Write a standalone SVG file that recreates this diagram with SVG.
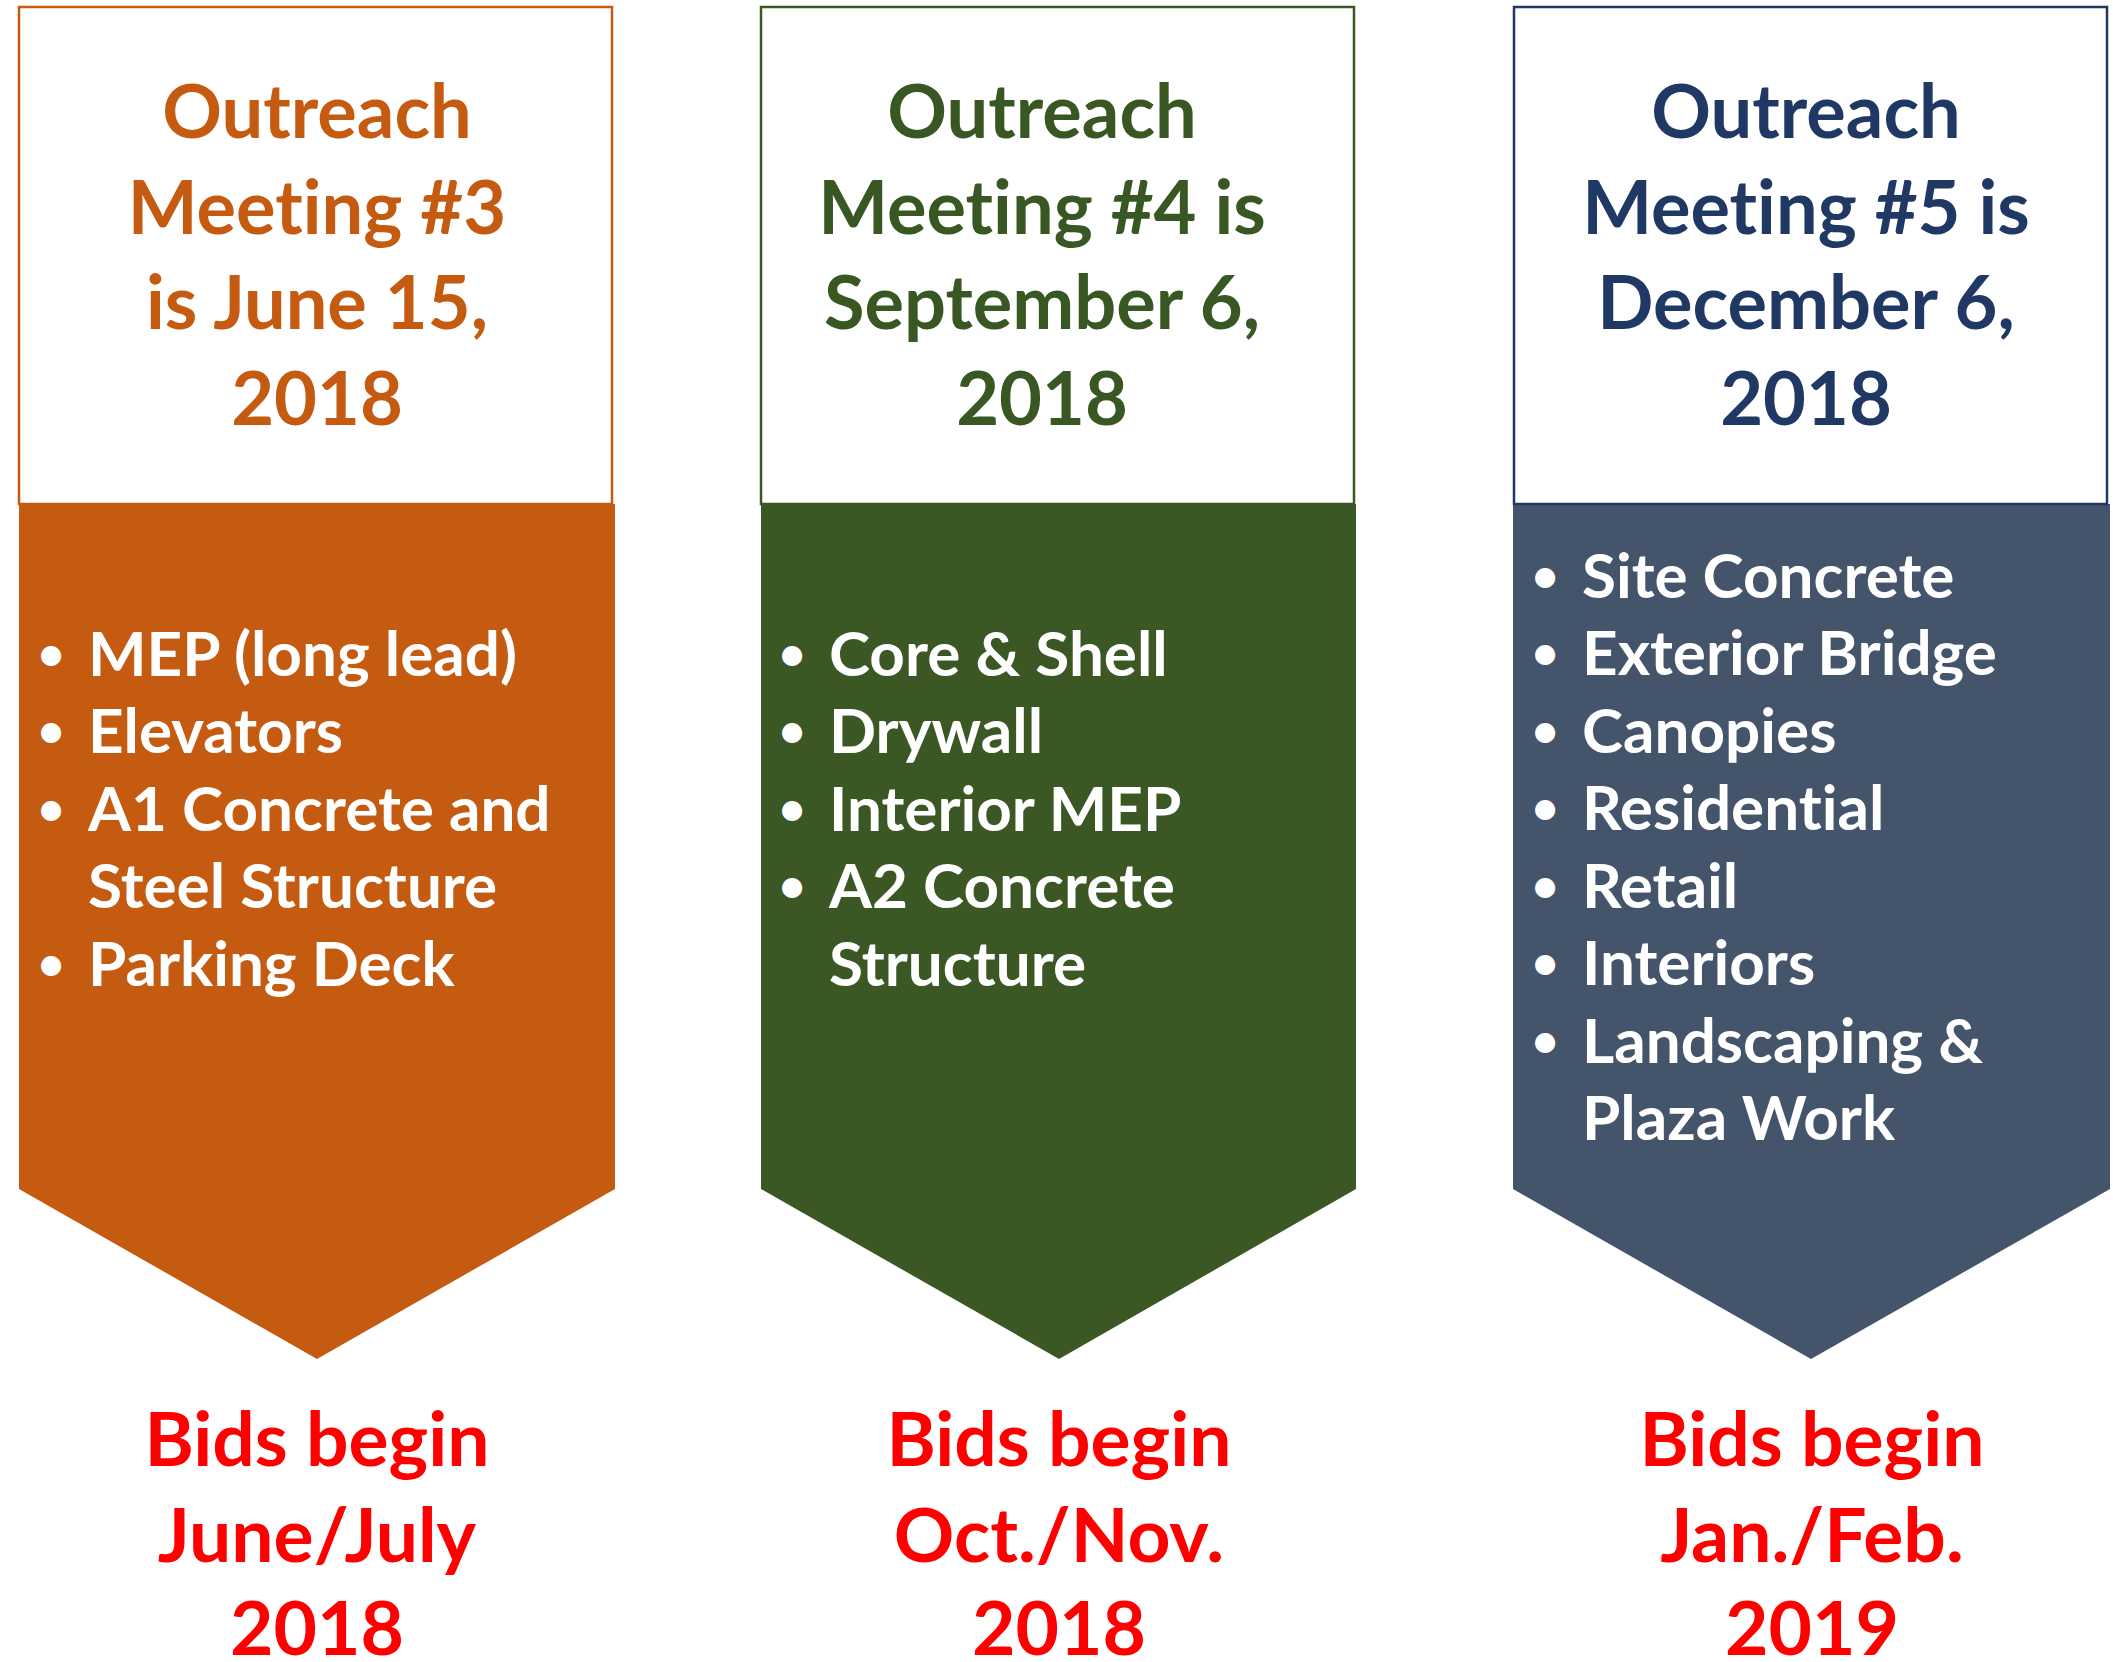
<svg xmlns="http://www.w3.org/2000/svg" width="2113" height="1662" viewBox="0 0 2113 1662">
<style>
text { font-family: "Lato", "Liberation Sans", sans-serif; font-weight: bold; font-variant-ligatures: none; font-feature-settings: "liga" 0, "clig" 0; }
.hd { font-size: 74px; text-anchor: middle; }
.bl { font-size: 62px; fill: #FFFFFF; }
.dot { font-size: 46px; fill: #FFFFFF; text-anchor: middle; }
.bid { font-size: 75px; text-anchor: middle; fill: #FF0000; }
.box { fill: #FFFFFF; stroke-width: 2.5; }
</style>
<rect width="2113" height="1662" fill="#FFFFFF"/>
<g id="col1">
  <polygon points="19,504 615,504 615,1189 317,1359 19,1189" fill="#C55A11"/>
  <rect class="box" x="19" y="7" width="593" height="497" stroke="#C55A11"/>
  <g fill="#C55A11">
    <text class="hd" x="317" y="138">Outreach</text>
    <text class="hd" x="317" y="234">Meeting #3</text>
    <text class="hd" x="317" y="329">is June 15,</text>
    <text class="hd" x="317" y="425">2018</text>
  </g>
  <text class="dot" x="51" y="670">•</text>
  <text class="bl" x="88" y="676">MEP (long lead)</text>
  <text class="dot" x="51" y="747">•</text>
  <text class="bl" x="88" y="753">Elevators</text>
  <text class="dot" x="51" y="825">•</text>
  <text class="bl" x="88" y="831">A1 Concrete and</text>
  <text class="bl" x="88" y="908">Steel Structure</text>
  <text class="dot" x="51" y="980">•</text>
  <text class="bl" x="88" y="986">Parking Deck</text>
  <text class="bid" x="317" y="1466">Bids begin</text>
  <text class="bid" x="317" y="1562">June/July</text>
  <text class="bid" x="317" y="1655">2018</text>
</g>
<g id="col2">
  <polygon points="761,504 1356,504 1356,1189 1059,1359 761,1189" fill="#3A5724"/>
  <rect class="box" x="761" y="7" width="593" height="497" stroke="#385723"/>
  <g fill="#385723">
    <text class="hd" x="1042" y="138">Outreach</text>
    <text class="hd" x="1042" y="234">Meeting #4 is</text>
    <text class="hd" x="1042" y="329">September 6,</text>
    <text class="hd" x="1042" y="425">2018</text>
  </g>
  <text class="dot" x="792" y="670">•</text>
  <text class="bl" x="829" y="676">Core &amp; Shell</text>
  <text class="dot" x="792" y="747">•</text>
  <text class="bl" x="829" y="753">Drywall</text>
  <text class="dot" x="792" y="825">•</text>
  <text class="bl" x="829" y="831">Interior MEP</text>
  <text class="dot" x="792" y="902">•</text>
  <text class="bl" x="829" y="908">A2 Concrete</text>
  <text class="bl" x="829" y="986">Structure</text>
  <text class="bid" x="1059" y="1466">Bids begin</text>
  <text class="bid" x="1059" y="1562">Oct./Nov.</text>
  <text class="bid" x="1059" y="1655">2018</text>
</g>
<g id="col3">
  <polygon points="1513,504 2110,504 2110,1189 1811,1359 1513,1189" fill="#44546A"/>
  <rect class="box" x="1514" y="7" width="593" height="497" stroke="#203864" stroke-width="3"/>
  <g fill="#203864">
    <text class="hd" x="1806" y="138">Outreach</text>
    <text class="hd" x="1806" y="234">Meeting #5 is</text>
    <text class="hd" x="1806" y="329">December 6,</text>
    <text class="hd" x="1806" y="425">2018</text>
  </g>
  <text class="dot" x="1545" y="592">•</text>
  <text class="bl" x="1582" y="598">Site Concrete</text>
  <text class="dot" x="1545" y="669">•</text>
  <text class="bl" x="1582" y="675">Exterior Bridge</text>
  <text class="dot" x="1545" y="747">•</text>
  <text class="bl" x="1582" y="753">Canopies</text>
  <text class="dot" x="1545" y="824">•</text>
  <text class="bl" x="1582" y="830">Residential</text>
  <text class="dot" x="1545" y="902">•</text>
  <text class="bl" x="1582" y="908">Retail</text>
  <text class="dot" x="1545" y="979">•</text>
  <text class="bl" x="1582" y="985">Interiors</text>
  <text class="dot" x="1545" y="1057">•</text>
  <text class="bl" x="1582" y="1063">Landscaping &amp;</text>
  <text class="bl" x="1582" y="1140">Plaza Work</text>
  <text class="bid" x="1812" y="1466">Bids begin</text>
  <text class="bid" x="1812" y="1562">Jan./Feb.</text>
  <text class="bid" x="1812" y="1655">2019</text>
</g>
<g id="connectors"></g>
</svg>
